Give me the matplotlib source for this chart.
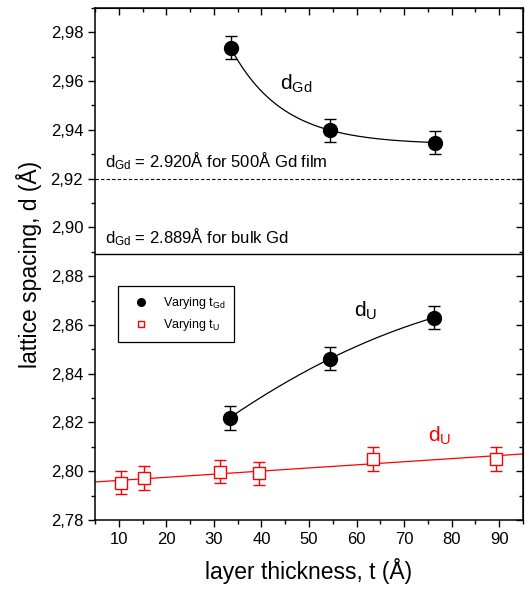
import matplotlib
matplotlib.use("Agg")
import matplotlib.pyplot as plt
import numpy as np
from matplotlib.ticker import MultipleLocator, FuncFormatter

plt.rcParams['font.family'] = ['Liberation Sans', 'DejaVu Sans']
plt.rcParams['mathtext.fontset'] = 'custom'
plt.rcParams['mathtext.rm'] = 'Liberation Sans'
plt.rcParams['mathtext.it'] = 'Liberation Sans'

# data
t_gd = [33.5, 54.5, 76.5]
d_gd = [2.9737, 2.9398, 2.9348]
t_u_black = [33.3, 54.5, 76.3]
d_u_black = [2.8219, 2.8462, 2.8630]
t_u_red = [10.4, 15.3, 31.2, 39.4, 63.5, 89.4]
d_u_red = [2.7953, 2.7972, 2.7998, 2.7991, 2.8051, 2.8051]
err = 0.0048
d_film = 2.920
d_bulk = 2.889


def exp_fit(x, y):
    # y = y0 + A*exp(-k x) through three points, k by bisection
    x = np.asarray(x); y = np.asarray(y)
    r = (y[0] - y[1]) / (y[1] - y[2])
    f = lambda k: (np.exp(-k*x[0]) - np.exp(-k*x[1])) / (np.exp(-k*x[1]) - np.exp(-k*x[2])) - r
    lo, hi = 1e-5, 1.0
    for _ in range(200):
        mid = 0.5 * (lo + hi)
        if f(lo) * f(mid) <= 0:
            hi = mid
        else:
            lo = mid
    k = 0.5 * (lo + hi)
    A = (y[0] - y[1]) / (np.exp(-k*x[0]) - np.exp(-k*x[1]))
    y0 = y[0] - A*np.exp(-k*x[0])
    return lambda xx: y0 + A*np.exp(-k*xx)


fig = plt.figure(figsize=(5.25, 5.92), dpi=100)
ax = fig.add_axes([0.181, 0.1216, 0.815, 0.865])

# fitted curves
gd_curve = exp_fit(t_gd, d_gd)
xx = np.linspace(min(t_gd), max(t_gd), 200)
ax.plot(xx, gd_curve(xx), color='black', lw=0.9)

pu = np.polyfit(t_u_black, d_u_black, 2)
xx = np.linspace(min(t_u_black), max(t_u_black), 200)
ax.plot(xx, np.polyval(pu, xx), color='black', lw=0.9)

pr = np.polyfit(t_u_red, d_u_red, 1)
xx = np.linspace(5, 95, 50)
ax.plot(xx, np.polyval(pr, xx), color='red', lw=0.9)

# reference lines
ax.axhline(d_film, color='black', lw=0.8, ls=(0, (3, 2)))
ax.axhline(d_bulk, color='black', lw=1.0)

# points with error bars
ax.errorbar(t_gd, d_gd, yerr=err, fmt='o', color='black', ms=10, capsize=4, elinewidth=1, capthick=1)
ax.errorbar(t_u_black, d_u_black, yerr=err, fmt='o', color='black', ms=10, capsize=4, elinewidth=1, capthick=1)
ax.errorbar(t_u_red, d_u_red, yerr=err, fmt='s', color='red', mfc='white', mec='red', ms=8.5, mew=1,
            capsize=4, elinewidth=1, capthick=1)

# legend proxies
ax.plot([], [], 'o', color='black', ms=5.5, label=r'Varying t$_{\mathrm{Gd}}$')
ax.plot([], [], 's', color='red', mfc='white', mec='red', ms=4.5, mew=1, label=r'Varying t$_{\mathrm{U}}$')
leg = ax.legend(loc='upper left', bbox_to_anchor=(0.054, 0.457), borderaxespad=0, fontsize=9,
                fancybox=False, edgecolor='black', framealpha=1, handlelength=2.2, borderpad=0.75,
                labelspacing=0.45, handletextpad=0.6)
leg.get_frame().set_linewidth(0.9)

# annotations
ax.text(7.1, 2.9245, r'd$_{\mathrm{Gd}}$ = 2.920Å for 500Å Gd film', fontsize=12, va='baseline')
ax.text(7.1, 2.8935, r'd$_{\mathrm{Gd}}$ = 2.889Å for bulk Gd', fontsize=12, va='baseline')
ax.text(43.9, 2.9565, r'd$_{\mathrm{Gd}}$', fontsize=15, va='baseline')
ax.text(59.4, 2.8633, r'd$_{\mathrm{U}}$', fontsize=15, va='baseline')
ax.text(75.1, 2.8121, r'd$_{\mathrm{U}}$', fontsize=15, va='baseline', color='red')

ax.set_xlim(5, 95)
ax.set_ylim(2.78, 2.99)
ax.xaxis.set_major_locator(MultipleLocator(10))
ax.xaxis.set_minor_locator(MultipleLocator(5))
ax.yaxis.set_major_locator(MultipleLocator(0.02))
ax.yaxis.set_minor_locator(MultipleLocator(0.01))
ax.yaxis.set_major_formatter(FuncFormatter(lambda v, p: f'{v:.2f}'.replace('.', ',')))
ax.xaxis.set_major_formatter(FuncFormatter(lambda v, p: '' if v < 10 else f'{v:.0f}'))
ax.tick_params(which='major', direction='out', length=5, width=1, labelsize=12)
ax.tick_params(which='minor', direction='out', length=3, width=1)

# mirrored ticks pointing in on top and right
sec_top = ax.secondary_xaxis('top')
sec_right = ax.secondary_yaxis('right')
for sec in (sec_top, sec_right):
    sec.tick_params(which='major', direction='in', length=5, width=1)
    sec.tick_params(which='minor', direction='in', length=3, width=1)
sec_top.xaxis.set_major_locator(MultipleLocator(10))
sec_top.xaxis.set_minor_locator(MultipleLocator(5))
sec_top.tick_params(labeltop=False)
sec_right.yaxis.set_major_locator(MultipleLocator(0.02))
sec_right.yaxis.set_minor_locator(MultipleLocator(0.01))
sec_right.tick_params(labelright=False)
for s in ax.spines.values():
    s.set_linewidth(1.1)

ax.set_xlabel('layer thickness, t (Å)', fontsize=16.5, labelpad=8)
ax.set_ylabel('lattice spacing, d (Å)', fontsize=16.5, labelpad=6)

fig.savefig('out.png', dpi=100)
